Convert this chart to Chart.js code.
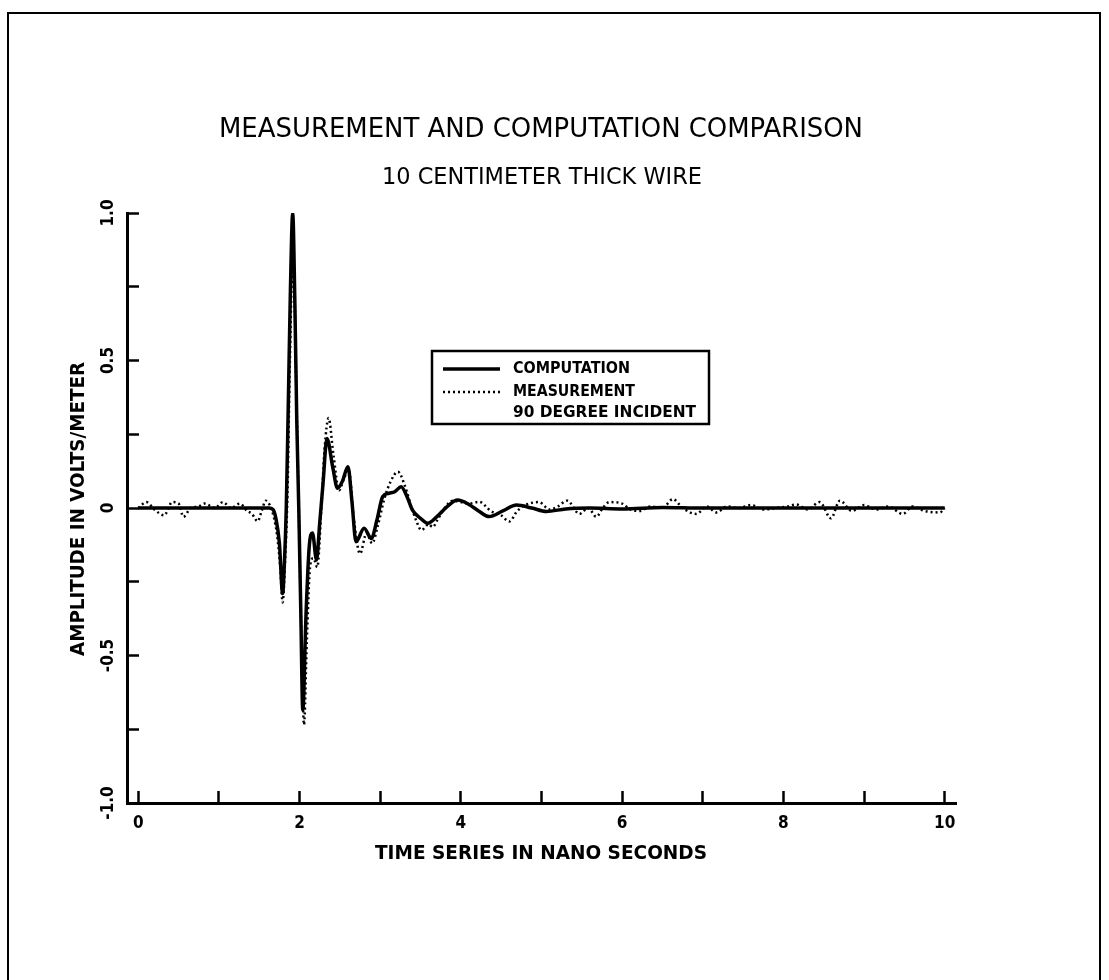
<!DOCTYPE html>
<html>
<head>
<meta charset="utf-8">
<script src="https://cdn.jsdelivr.net/npm/chart.js@4.4.0/dist/chart.umd.min.js"></script>
<style>
  html, body { margin: 0; padding: 0; background: #fff; }
  #chart { display: block; }
</style>
</head>
<body>
<canvas id="chart" width="1109" height="980"></canvas>
<script>
/* ---------------- fonts ---------------- */
const FONT = "'Liberation Sans Narrow', 'DejaVu Sans Condensed', 'Liberation Sans', sans-serif";

/* ---------------- data ---------------- */
// computation : solid line
const compT = [0, 1.62, 1.67, 1.71, 1.75, 1.79, 1.81, 1.835, 1.86, 1.885, 1.915, 1.94, 1.965, 1.99, 2.015, 2.04,
  2.08, 2.12, 2.16, 2.21, 2.25, 2.29, 2.34, 2.41, 2.47, 2.53, 2.60, 2.65, 2.70, 2.80, 2.89, 2.96, 3.03, 3.11,
  3.18, 3.26, 3.33, 3.40, 3.50, 3.59, 3.70, 3.83, 3.96, 4.10, 4.22, 4.35, 4.52, 4.69, 4.88, 5.06, 5.3, 5.6,
  6.0, 6.5, 7.0, 7.5, 8.0, 8.5, 9.0, 9.5, 10];
const compV = [0, 0, -0.005, -0.04, -0.12, -0.29, -0.2, 0.0, 0.35, 0.72, 1.0, 0.72, 0.3, 0.0, -0.35, -0.685,
  -0.36, -0.13, -0.085, -0.176, -0.05, 0.08, 0.236, 0.14, 0.067, 0.09, 0.14, 0.02, -0.114, -0.069, -0.103, -0.04, 0.038, 0.05,
  0.055, 0.072, 0.04, -0.007, -0.035, -0.052, -0.03, 0.005, 0.027, 0.012, -0.01, -0.029, -0.01, 0.01, 0.0, -0.012, -0.003, 0.0,
  -0.003, 0.002, 0.0, 0.0, 0.0, 0.0, 0.0, 0.0, 0.0];

// measurement : dotted line
const measT = [0, 0.1, 0.2, 0.32, 0.42, 0.5, 0.56, 0.65, 0.75, 0.82, 0.95, 1.05, 1.15, 1.26, 1.35, 1.41, 1.48, 1.53,
  1.58, 1.63, 1.68, 1.72, 1.76, 1.79, 1.82, 1.85, 1.88, 1.91, 1.935, 1.96, 1.99, 2.02, 2.055, 2.09, 2.13, 2.17,
  2.22, 2.27, 2.31, 2.36, 2.42, 2.49, 2.55, 2.61, 2.67, 2.75, 2.83, 2.9, 2.97, 3.05, 3.13, 3.22, 3.3, 3.38,
  3.45, 3.51, 3.6, 3.65, 3.71, 3.8, 3.9, 4.0, 4.1, 4.23, 4.37, 4.5, 4.6, 4.7, 4.8, 4.97, 5.1, 5.2, 5.32,
  5.47, 5.58, 5.68, 5.76, 5.84, 6.0, 6.1, 6.22, 6.35, 6.5, 6.63, 6.75, 6.92, 7.05, 7.17, 7.3, 7.45, 7.6,
  7.75, 7.9, 8.05, 8.16, 8.3, 8.45, 8.59, 8.7, 8.85, 9.0, 9.15, 9.3, 9.48, 9.6, 9.75, 9.94, 10];
const measV = [0, 0.02, -0.005, -0.025, 0.02, 0.015, -0.03, 0.0, 0.005, 0.015, 0.0, 0.02, 0.0, 0.015, -0.01, -0.02, -0.045, -0.01,
  0.025, 0.01, -0.03, -0.09, -0.2, -0.32, -0.18, 0.05, 0.5, 0.8, 0.75, 0.4, 0.0, -0.4, -0.735, -0.45, -0.2, -0.17,
  -0.2, 0.0, 0.2, 0.305, 0.18, 0.06, 0.1, 0.13, -0.03, -0.155, -0.085, -0.12, -0.06, 0.03, 0.09, 0.123, 0.08, 0.01,
  -0.045, -0.075, -0.055, -0.065, -0.04, 0.0, 0.025, 0.02, 0.015, 0.021, -0.01, -0.025, -0.046, -0.01, 0.01, 0.02, -0.005, 0.005, 0.025,
  -0.02, 0.0, -0.03, 0.0, 0.02, 0.015, -0.005, -0.01, 0.005, 0.0, 0.03, 0.0, -0.02, 0.005, -0.015, 0.005, 0.0, 0.01,
  -0.005, 0.0, 0.005, 0.012, -0.005, 0.02, -0.035, 0.025, -0.01, 0.01, -0.005, 0.005, -0.02, 0.005, -0.01, -0.015, 0.0];

/* ---------------- axes & texts ---------------- */
const xTickValues = [0, 1, 2, 3, 4, 5, 6, 7, 8, 9, 10];
const xLabelValues = [0, 2, 4, 6, 8, 10];
const yTickValues = [-1, -0.75, -0.5, -0.25, 0, 0.25, 0.5, 0.75, 1];
const yLabelValues = [-1, -0.5, 0, 0.5, 1];
const yLabelTexts = ['-1.0', '-0.5', '0', '0.5', '1.0'];

const titleText = 'MEASUREMENT AND COMPUTATION COMPARISON';
const subtitleText = '10 CENTIMETER THICK WIRE';
const xTitleText = 'TIME SERIES IN NANO SECONDS';
const yTitleText = 'AMPLITUDE IN VOLTS/METER';
const legendTexts = ['COMPUTATION', 'MEASUREMENT', '90 DEGREE INCIDENT'];

/* ---------------- helpers ---------------- */
function pairs(T, V) {
  return T.map((t, i) => ({ x: t, y: V[i] }));
}

// draw text centred on (cx, cy), stretched to a given width
function fitText(ctx, text, cx, cy, font, width, angle) {
  ctx.save();
  ctx.font = font;
  ctx.fillStyle = '#000';
  ctx.textAlign = 'center';
  ctx.textBaseline = 'middle';
  ctx.translate(cx, cy);
  if (angle) ctx.rotate(angle);
  const w = ctx.measureText(text).width;
  if (width) ctx.scale(width / w, 1);
  ctx.fillText(text, 0, 0);
  ctx.restore();
}

/* ---------------- decorations plugin ---------------- */
const decor = {
  id: 'decor',
  afterDraw(chart) {
    const ctx = chart.ctx;
    const ys = chart.scales.y;

    // page frame
    ctx.save();
    ctx.strokeStyle = '#000';
    ctx.lineWidth = 2;
    ctx.strokeRect(8, 13, 1092, 1000);
    ctx.restore();

    fitText(ctx, titleText, 541, 130, `27px ${FONT}`, 644);
    fitText(ctx, subtitleText, 542, 178, `23px ${FONT}`, 320);
    fitText(ctx, xTitleText, 541, 854, `bold 19px ${FONT}`, 332);
    fitText(ctx, yTitleText, 79, 509, `bold 19px ${FONT}`, 294, -Math.PI / 2);

    // rotated y tick labels
    yLabelValues.forEach((v, i) => {
      fitText(ctx, yLabelTexts[i], 109, ys.getPixelForValue(v), `bold 17px ${FONT}`, 0, -Math.PI / 2);
    });

    // legend box
    const ds = chart.data.datasets;
    ctx.save();
    ctx.strokeStyle = '#000';
    ctx.lineWidth = 2.5;
    ctx.strokeRect(432, 351, 277, 73);
    const rows = [369, 392, 413];
    [0, 1].forEach(i => {
      ctx.beginPath();
      ctx.lineWidth = ds[i].borderWidth;
      ctx.setLineDash(ds[i].borderDash || []);
      ctx.moveTo(443, rows[i]);
      ctx.lineTo(500, rows[i]);
      ctx.stroke();
    });
    ctx.setLineDash([]);
    ctx.restore();
    const widths = [117, 122, 183];
    legendTexts.forEach((t, i) => {
      fitText(ctx, t, 513 + widths[i] / 2, rows[i], `bold 16px ${FONT}`, widths[i]);
    });
  }
};

/* ---------------- chart ---------------- */
const ctx = document.getElementById('chart').getContext('2d');
new Chart(ctx, {
  type: 'line',
  data: {
    datasets: [
      {
        label: legendTexts[0],
        data: pairs(compT, compV),
        borderColor: '#000',
        borderWidth: 3.5,
        pointRadius: 0,
        cubicInterpolationMode: 'monotone',
        fill: false
      },
      {
        label: legendTexts[1],
        data: pairs(measT, measV),
        borderColor: '#000',
        borderWidth: 2.5,
        borderDash: [2, 3],
        pointRadius: 0,
        cubicInterpolationMode: 'monotone',
        fill: false
      }
    ]
  },
  options: {
    responsive: false,
    animation: false,
    events: [],
    layout: { padding: { left: 67, right: 153, top: 213, bottom: 117 } },
    plugins: {
      legend: { display: false },
      title: { display: false },
      tooltip: { enabled: false }
    },
    scales: {
      x: {
        type: 'linear',
        min: -0.14,
        max: 10.14,
        afterFit: s => { s.height = 60; },
        afterBuildTicks: s => { s.ticks = xTickValues.map(v => ({ value: v })); },
        border: { display: true, color: '#000', width: 3 },
        grid: { drawOnChartArea: false, drawTicks: true, tickLength: -12, tickWidth: 2.5, tickColor: '#000' },
        ticks: {
          color: '#000',
          padding: 22,
          maxRotation: 0,
          autoSkip: false,
          font: { family: FONT, size: 17, weight: 'bold' },
          callback: v => (xLabelValues.includes(v) ? String(v) : '')
        }
      },
      y: {
        type: 'linear',
        min: -1,
        max: 1,
        afterFit: s => { s.width = 60; },
        afterBuildTicks: s => { s.ticks = yTickValues.map(v => ({ value: v })); },
        border: { display: true, color: '#000', width: 3 },
        grid: { drawOnChartArea: false, drawTicks: true, tickLength: -12, tickWidth: 2.5, tickColor: '#000' },
        ticks: { display: false }
      }
    }
  },
  plugins: [decor]
});
</script>
</body>
</html>
